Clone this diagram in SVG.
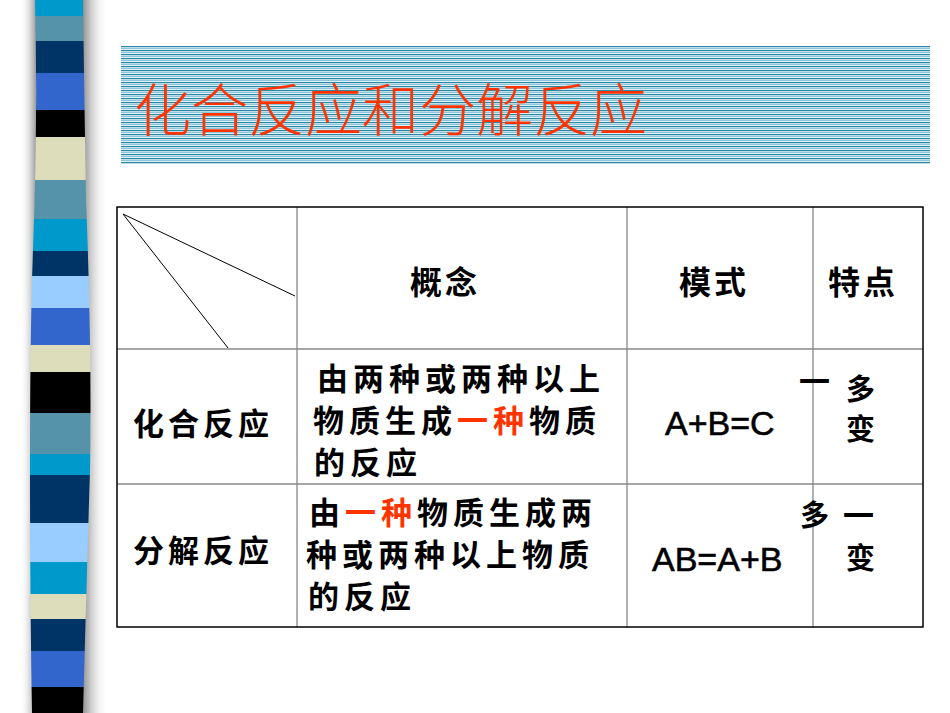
<svg xmlns="http://www.w3.org/2000/svg" width="950" height="713" viewBox="0 0 950 713">
<defs>
<pattern id="stripes" x="0" y="46" width="10" height="4" patternUnits="userSpaceOnUse">
<rect x="0" y="0" width="10" height="1.3" fill="#2a8aa8"/>
<rect x="0" y="2" width="10" height="1.3" fill="#8cc6dc"/>
</pattern>
<linearGradient id="shL" x1="0" x2="1"><stop offset="0" stop-color="#fff" stop-opacity="0"/><stop offset="1" stop-color="#999"/></linearGradient>
<linearGradient id="shR" x1="0" x2="1"><stop offset="0" stop-color="#888"/><stop offset="1" stop-color="#fff" stop-opacity="0"/></linearGradient>
<clipPath id="barclip"><path d="M35,0 L83,0 Q84,80 86,200 Q92,350 90,470 Q86,600 83,713 L32,713 Q30,600 30,470 Q30,330 33,250 Q38,120 35,0 Z"/></clipPath>
</defs>
<style>
.t{font-family:"Noto Sans CJK SC",sans-serif;font-weight:700;fill:#000}
.b{font-size:31px;letter-spacing:5px}
.h{font-size:32px;letter-spacing:3px}
.r{fill:#ff3300}
.f{font-family:"Liberation Sans",Arial,sans-serif;font-size:34px;fill:#000;stroke:#000;stroke-width:0.6}
.g{stroke:#888;stroke-width:1.3;fill:none}
</style>
<rect width="950" height="713" fill="#fff"/>
<g id="sidebar">
<rect x="20" y="0" width="16" height="713" fill="url(#shL)"/>
<rect x="82" y="0" width="26" height="713" fill="url(#shR)"/>
<g clip-path="url(#barclip)">
<rect x="0" y="0" width="120" height="16" fill="#0099cc"/>
<rect x="0" y="16" width="120" height="25" fill="#5593aa"/>
<rect x="0" y="41" width="120" height="32" fill="#003366"/>
<rect x="0" y="73" width="120" height="37" fill="#3366cc"/>
<rect x="0" y="110" width="120" height="27" fill="#000"/>
<rect x="0" y="137" width="120" height="43" fill="#ddddbb"/>
<rect x="0" y="180" width="120" height="39" fill="#5593aa"/>
<rect x="0" y="219" width="120" height="32" fill="#0099cc"/>
<rect x="0" y="251" width="120" height="25" fill="#003366"/>
<rect x="0" y="276" width="120" height="32" fill="#99ccff"/>
<rect x="0" y="308" width="120" height="37" fill="#3366cc"/>
<rect x="0" y="345" width="120" height="27" fill="#ddddbb"/>
<rect x="0" y="372" width="120" height="41" fill="#000"/>
<rect x="0" y="413" width="120" height="41" fill="#5593aa"/>
<rect x="0" y="454" width="120" height="21" fill="#0099cc"/>
<rect x="0" y="475" width="120" height="48" fill="#003366"/>
<rect x="0" y="523" width="120" height="39" fill="#99ccff"/>
<rect x="0" y="562" width="120" height="32" fill="#0099cc"/>
<rect x="0" y="594" width="120" height="25" fill="#ddddbb"/>
<rect x="0" y="619" width="120" height="32" fill="#003366"/>
<rect x="0" y="651" width="120" height="36" fill="#3366cc"/>
<rect x="0" y="687" width="120" height="26" fill="#000"/>
</g>
</g>
<g id="title">
<rect x="121" y="46" width="809" height="118" fill="url(#stripes)"/>
<text x="134" y="131" font-family="Noto Sans CJK SC,sans-serif" font-weight="300" font-size="57" fill="#ff3300">化合反应和分解反应</text>
</g>
<g id="connectors">
<line x1="297" y1="207" x2="297" y2="627" class="g"/>
<line x1="627" y1="207" x2="627" y2="627" class="g"/>
<line x1="813" y1="207" x2="813" y2="627" class="g"/>
<line x1="117" y1="349" x2="923" y2="349" class="g"/>
<line x1="117" y1="484" x2="923" y2="484" class="g"/>
<rect x="117" y="207" width="806" height="420" fill="none" stroke="#000" stroke-width="1.5"/>
<line x1="123" y1="214" x2="295" y2="296" stroke="#000" stroke-width="1"/>
<line x1="123" y1="214" x2="228" y2="348" stroke="#000" stroke-width="1"/>
</g>
<g id="header">
<text x="410" y="294" class="t h">概念</text>
<text x="679" y="294" class="t h">模式</text>
<text x="828" y="294" class="t h">特点</text>
</g>
<g id="row1">
<text x="133" y="435" class="t b" style="letter-spacing:4px">化合反应</text>
<text x="317" y="390" class="t b">由两种或两种以上</text>
<text x="313" y="432" class="t b">物质生成<tspan class="r">一种</tspan>物质</text>
<text x="314" y="474" class="t b">的反应</text>
<text x="665" y="435" class="f">A+B=C</text>
<text x="799" y="393" class="t b">一</text>
<text x="846" y="400" class="t" style="font-size:29px">多</text>
<text x="846" y="440" class="t" style="font-size:29px">变</text>
</g>
<g id="row2">
<text x="133" y="562" class="t b" style="letter-spacing:4px">分解反应</text>
<text x="309" y="524" class="t b">由<tspan class="r">一种</tspan>物质生成两</text>
<text x="306" y="566" class="t b">种或两种以上物质</text>
<text x="308" y="608" class="t b">的反应</text>
<text x="652" y="571" class="f">AB=A+B</text>
<text x="800" y="526" class="t" style="font-size:29px">多</text>
<text x="843" y="527" class="t b">一</text>
<text x="846" y="569" class="t" style="font-size:29px">变</text>
</g>
</svg>
